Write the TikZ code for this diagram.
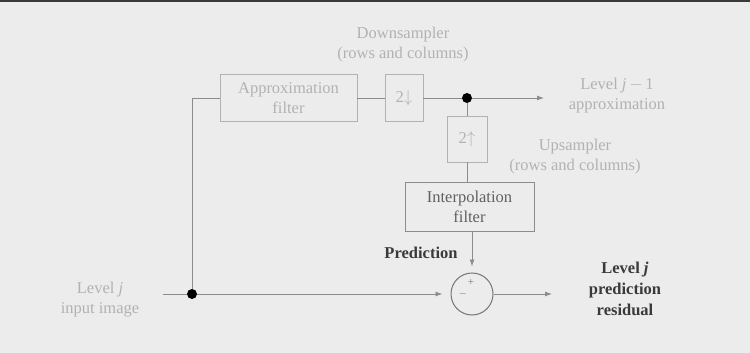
\documentclass[tikz,border=0pt]{standalone}
\usepackage{fontspec}
\setmainfont{Liberation Serif}
\usetikzlibrary{arrows.meta}
\definecolor{bg}{HTML}{ECECEC}
\definecolor{faint}{HTML}{B2B2B2}
\definecolor{midg}{HTML}{8C8C8C}
\definecolor{darkg}{HTML}{3A3A3A}
\begin{document}
\begin{tikzpicture}[x=1pt,y=-1pt,
  every node/.style={font=\fontsize{16.5}{20}\selectfont, inner sep=0pt},
  lbl/.style={align=center, text=faint},
  dlbl/.style={align=center, text=darkg, font=\fontsize{16.5}{21}\selectfont\bfseries},
  blk/.style={draw=faint, line width=0.8pt, align=center, text=faint},
  dblk/.style={draw=midg, line width=0.9pt, align=center, text=darkg!80},
  wire/.style={draw=midg, line width=0.9pt},
  arr/.style={wire, -{Latex[length=7pt,width=5pt]}},
  dotn/.style={circle, fill=black, minimum size=10pt}]
\fill[bg] (0,0) rectangle (750,353);
\useasboundingbox (0,0) rectangle (750,353);
\fill[darkg] (0,0) rectangle (750,2.5);
% blocks
\node[blk, minimum width=137pt, minimum height=47pt] (af) at (288.5,98) {Approximation\\filter};
\node[blk, minimum width=38pt, minimum height=47pt] (dn) at (404,98) {2$\downarrow$};
\node[dotn] (d1) at (467,98) {};
\coordinate (o1) at (544,98);
\node[blk, minimum width=40pt, minimum height=46pt] (up) at (467,139) {2$\uparrow$};
\node[dblk, minimum width=129pt, minimum height=49pt] (ip) at (469.5,206.5) {Interpolation\\filter};
\node[draw=darkg!70, line width=1pt, circle, minimum size=42pt] (sum) at (472,294) {};
\node[dotn] (d0) at (192,294) {};
\coordinate (in) at (163,294);
\coordinate (o2) at (552,294);
% signs
\node[text=darkg!70, font=\fontsize{11}{11}\selectfont] at (471,282) {+};
\node[text=darkg!70, font=\fontsize{11}{11}\selectfont] at (463,294) {$-$};
% labels
\node[lbl] (dnl) at (403,45) {Downsampler\\(rows and columns)};
\node[lbl] (apl) at (617,96) {Level \textit{j}\,$-$\,1\\approximation};
\node[lbl] (upl) at (575,157) {Upsampler\\(rows and columns)};
\node[lbl] (inl) at (100,300) {Level \textit{j}\\input image};
\node[dlbl] (prl) at (421,253) {Prediction};
\node[dlbl] (rsl) at (625,289) {Level \textit{j}\\prediction\\residual};
% wires
\draw[wire] (in) -- (d0);
\draw[wire] (d0) |- (af.west);
\draw[wire] (af.east) -- (dn.west);
\draw[wire] (dn.east) -- (d1);
\draw[arr] (d1) -- (o1);
\draw[wire] (d1) -- (up.north);
\draw[wire] (up.south) -- (up.south |- ip.north);
\draw[arr, shorten >=6pt] (ip.south -| sum.north) -- (sum.north);
\draw[arr, shorten >=8pt] (d0) -- (sum.west);
\draw[arr] (sum.east) -- (o2);
\end{tikzpicture}
\end{document}
